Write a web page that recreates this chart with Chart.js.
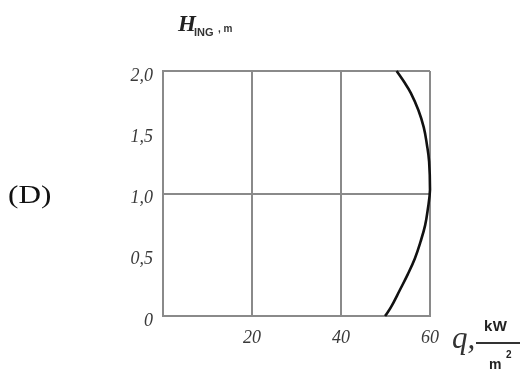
<!DOCTYPE html>
<html>
<head>
<meta charset="utf-8">
<script src="https://cdn.jsdelivr.net/npm/chart.js@4/dist/chart.umd.min.js"></script>
<style>
  html, body { margin: 0; padding: 0; background: #fff; }
  #wrap { position: relative; width: 520px; height: 369px; overflow: hidden; }
  #chart { position: absolute; left: 0; top: 0; }
  .lbl { position: absolute; white-space: nowrap; line-height: 1; }
  #panel { left: 8px; top: 180px; font: 26px "Liberation Serif", serif; color: #111;
           transform: scaleX(1.2); transform-origin: left top; }
  #yH   { left: 178px; top: 11px; font: italic bold 23px "Liberation Serif", serif; color: #222; }
  #yIng { left: 194px; top: 26px; font: bold 11px "Liberation Sans", sans-serif; color: #333; }
  #yUnit{ left: 218px; top: 23px; font: bold 10px "Liberation Sans", sans-serif; color: #333; }
  #xq   { left: 452px; top: 320px; font: italic 31px "Liberation Serif", serif; color: #333; }
  #xkW  { left: 484px; top: 317px; font: bold 15px "Liberation Sans", sans-serif; color: #222; letter-spacing: 0.5px; }
  #xbar { left: 476px; top: 342px; width: 46px; height: 1.5px; background: #333; }
  #xm   { left: 489px; top: 356px; font: bold 14px "Liberation Sans", sans-serif; color: #222; }
  #x2   { left: 506px; top: 349px; font: bold 10px "Liberation Sans", sans-serif; color: #222; }
</style>
</head>
<body>
<div id="wrap">
  <canvas id="chart" width="520" height="369"></canvas>
  <div class="lbl" id="panel">(D)</div>
  <div class="lbl" id="yH">H</div>
  <div class="lbl" id="yIng">ING</div>
  <div class="lbl" id="yUnit">, m</div>
  <div class="lbl" id="xq">q,</div>
  <div class="lbl" id="xkW">kW</div>
  <div class="lbl" id="xbar"></div>
  <div class="lbl" id="xm">m</div>
  <div class="lbl" id="x2">2</div>
</div>
<script>
// Heat flux profile q (kW/m²) along the height H (m)
const heights  = [0, 0.07, 0.21, 0.34, 0.47, 0.61, 0.74, 0.87, 1.03, 1.26, 1.40, 1.54, 1.68, 1.82, 1.91, 2.0];
const heatFlux = [49.9, 51.2, 53.2, 55.0, 56.6, 57.9, 58.9, 59.5, 60.0, 59.8, 59.3, 58.6, 57.4, 55.7, 54.2, 52.5];

const xTicks = [0, 20, 40, 60];
const yTicks = [0, 0.5, 1.0, 1.5, 2.0];
const yGridValues = [0, 1.0, 2.0];

const points = heights.map((h, i) => ({ x: heatFlux[i], y: h }));
const gridGray = '#8a8a8a';
const tickFont = { family: 'Liberation Serif', style: 'italic', size: 18 };

new Chart(document.getElementById('chart'), {
  type: 'scatter',
  data: {
    datasets: [{
      data: points,
      showLine: true,
      borderColor: '#111',
      borderWidth: 2.6,
      pointRadius: 0,
      tension: 0.4,
      clip: false
    }]
  },
  options: {
    responsive: false,
    animation: false,
    layout: { padding: { left: 0, top: 71, right: 90, bottom: 0 } },
    plugins: { legend: { display: false }, tooltip: { enabled: false } },
    scales: {
      x: {
        type: 'linear',
        min: xTicks[0],
        max: xTicks[xTicks.length - 1],
        afterFit: s => { s.height = 53; },
        afterBuildTicks: s => { s.ticks = xTicks.map(v => ({ value: v })); },
        grid: { color: gridGray, lineWidth: 2, drawTicks: false },
        border: { display: true, color: gridGray, width: 2 },
        ticks: {
          padding: 11,
          color: '#3a3a3a',
          font: tickFont,
          callback: v => (v === 0 ? '' : String(v))
        }
      },
      y: {
        type: 'linear',
        min: yTicks[0],
        max: yTicks[yTicks.length - 1],
        afterFit: s => { s.width = 163; },
        afterBuildTicks: s => { s.ticks = yTicks.map(v => ({ value: v })); },
        grid: {
          lineWidth: 2,
          drawTicks: false,
          color: c => (yGridValues.includes(c.tick.value) ? gridGray : 'rgba(0,0,0,0)')
        },
        border: { display: true, color: gridGray, width: 2 },
        ticks: {
          padding: 10,
          labelOffset: 5,
          color: '#3a3a3a',
          font: tickFont,
          callback: v => (v === 0 ? '0' : v.toFixed(1).replace('.', ','))
        }
      }
    }
  }
});
</script>
</body>
</html>
